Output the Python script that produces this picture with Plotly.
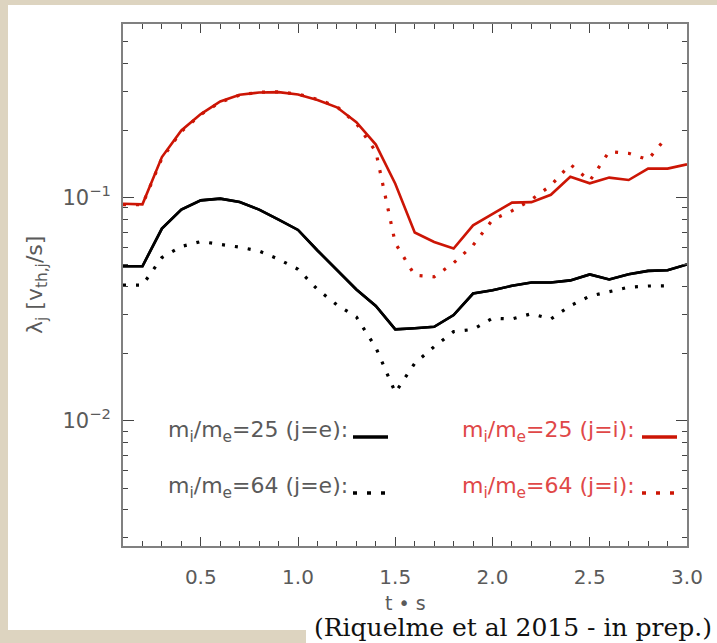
import plotly.graph_objects as go

# ---------------- data ----------------
t_full = [0.1, 0.2, 0.3, 0.4, 0.5, 0.6, 0.7, 0.8, 0.9, 1.0,
          1.1, 1.2, 1.3, 1.4, 1.5, 1.6, 1.7, 1.8, 1.9, 2.0,
          2.1, 2.2, 2.3, 2.4, 2.5, 2.6, 2.7, 2.8, 2.9, 3.0]
t_short = t_full[:-1]

ion_25 = [0.094, 0.0934, 0.152, 0.200, 0.237, 0.270, 0.289, 0.296, 0.297, 0.290,
          0.274, 0.254, 0.218, 0.173, 0.1155, 0.0698, 0.0633, 0.0592, 0.0752, 0.0842,
          0.095, 0.0955, 0.103, 0.124, 0.116, 0.123, 0.120, 0.135, 0.135, 0.141]

ion_64 = [0.093, 0.093, 0.150, 0.198, 0.236, 0.268, 0.288, 0.297, 0.298, 0.291,
          0.276, 0.256, 0.215, 0.161, 0.0626, 0.0449, 0.0442, 0.051, 0.0612, 0.0796,
          0.0873, 0.098, 0.1135, 0.141, 0.119, 0.161, 0.158, 0.148, 0.189]

ele_25 = [0.0493, 0.0493, 0.0727, 0.0884, 0.0973, 0.099, 0.0956, 0.0884, 0.0797, 0.0717,
          0.058, 0.0475, 0.0388, 0.0327, 0.0257, 0.026, 0.0264, 0.0298, 0.0372, 0.0385,
          0.0403, 0.0417, 0.0417, 0.0426, 0.0453, 0.043, 0.0454, 0.047, 0.0473, 0.0502]

ele_64 = [0.0406, 0.0406, 0.0539, 0.0604, 0.0636, 0.062, 0.060, 0.0577, 0.053, 0.0478,
          0.0388, 0.0331, 0.0292, 0.0213, 0.0134, 0.0181, 0.0215, 0.0251, 0.0257, 0.0288,
          0.0286, 0.0302, 0.0286, 0.0328, 0.0362, 0.0379, 0.0397, 0.0402, 0.0403]

x_tickvals = [0.5, 1.0, 1.5, 2.0, 2.5, 3.0]
x_ticktext = ["0.5", "1.0", "1.5", "2.0", "2.5", "3.0"]
y_tickvals = [0.01, 0.1]
y_ticktext = ["10<sup>−2</sup>", "10<sup>−1</sup>"]
y_minor = [0.003, 0.004, 0.005, 0.006, 0.007, 0.008, 0.009,
           0.02, 0.03, 0.04, 0.05, 0.06, 0.07, 0.08, 0.09,
           0.2, 0.3, 0.4, 0.5, 0.6]

legend_labels = ["m<sub>i</sub>/m<sub>e</sub>=25 (j=e):",
                 "m<sub>i</sub>/m<sub>e</sub>=64 (j=e):",
                 "m<sub>i</sub>/m<sub>e</sub>=25 (j=i):",
                 "m<sub>i</sub>/m<sub>e</sub>=64 (j=i):"]

RED = "#cc1505"
RED_TXT = "#e04848"
BLACK = "#000000"
GRAY_TXT = "#5a5a5a"
AXIS = "#808080"
TICK = "#444444"
BEIGE = "#ddd4c0"

W, H = 717, 643
ML, MR, MT, MB = 123, 30, 24, 97
PW, PH = W - ML - MR, H - MT - MB
X_RANGE = [0.1, 3.0]
Y_RANGE = [-2.5607, -0.2218]


def px2x(p):
    return (p - ML) / PW


def px2y(p):
    return (H - MB - p) / PH


fig = go.Figure()
DOT = "3px,10px"
fig.add_trace(go.Scatter(x=t_full, y=ele_25, mode="lines", line=dict(color=BLACK, width=2.6)))
fig.add_trace(go.Scatter(x=t_short, y=ele_64, mode="lines", line=dict(color=BLACK, width=3.2, dash=DOT)))
fig.add_trace(go.Scatter(x=t_full, y=ion_25, mode="lines", line=dict(color=RED, width=2.6)))
fig.add_trace(go.Scatter(x=t_short, y=ion_64, mode="lines", line=dict(color=RED, width=3.2, dash=DOT)))
# same series on the mirrored (top/right) axes so that those axes get drawn with their ticks
fig.add_trace(go.Scatter(x=t_full, y=ele_25, mode="lines", xaxis="x2", yaxis="y2",
                         line=dict(color=BLACK, width=2.6), hoverinfo="skip"))

shapes = [
    dict(type="rect", xref="paper", yref="paper", layer="below",
         x0=px2x(8), x1=px2x(717), y0=px2y(630), y1=px2y(5),
         fillcolor="white", line=dict(width=0)),
    dict(type="rect", xref="paper", yref="paper", layer="below",
         x0=px2x(306), x1=px2x(717), y0=px2y(643), y1=px2y(628),
         fillcolor="white", line=dict(width=0)),
]

row_y = [px2y(437), px2y(493)]
samples = [
    (px2x(353), px2x(388), row_y[0], BLACK, "solid"),
    (px2x(353), px2x(388), row_y[1], BLACK, "4px,10px"),
    (px2x(642), px2x(677), row_y[0], RED, "solid"),
    (px2x(642), px2x(677), row_y[1], RED, "4px,10px"),
]
for x0, x1, yy, c, d in samples:
    shapes.append(dict(type="line", xref="paper", yref="paper", x0=x0, x1=x1, y0=yy, y1=yy,
                       line=dict(color=c, width=3.5, dash=d)))

annotations = []
text_rows = [(px2x(350), px2y(431), legend_labels[0], GRAY_TXT),
             (px2x(350), px2y(487), legend_labels[1], GRAY_TXT),
             (px2x(637), px2y(431), legend_labels[2], RED_TXT),
             (px2x(637), px2y(487), legend_labels[3], RED_TXT)]
for xx, yy, txt, c in text_rows:
    annotations.append(dict(xref="paper", yref="paper", x=xx, y=yy, text=txt, showarrow=False,
                            xanchor="right", yanchor="middle",
                            font=dict(family="DejaVu Sans", size=22, color=c)))

annotations.append(dict(xref="paper", yref="paper", x=px2x(36), y=0.5, textangle=-90,
                        text="λ<sub>j</sub> [v<sub>th,j</sub>/s]", showarrow=False,
                        xanchor="center", yanchor="middle",
                        font=dict(family="DejaVu Sans", size=22, color=GRAY_TXT)))
annotations.append(dict(xref="paper", yref="paper", x=0.5, y=px2y(603),
                        text="t • s", showarrow=False, xanchor="center", yanchor="middle",
                        font=dict(family="DejaVu Sans", size=19, color=GRAY_TXT)))
annotations.append(dict(xref="paper", yref="paper", x=px2x(714), y=px2y(627),
                        text="(Riquelme et al 2015 - in prep.)", showarrow=False,
                        xanchor="right", yanchor="middle",
                        font=dict(family="DejaVu Serif", size=25, color="#111111")))

common_x = dict(range=X_RANGE, tickmode="array", tickvals=x_tickvals,
                ticks="inside", ticklen=9, tickwidth=1.2, tickcolor=TICK,
                minor=dict(dtick=0.1, tick0=0.0, ticks="inside", ticklen=5, tickwidth=1.1,
                           tickcolor=TICK, showgrid=False),
                showgrid=False, zeroline=False)
common_y = dict(type="log", range=Y_RANGE, tickmode="array", tickvals=y_tickvals,
                ticks="inside", ticklen=11, tickwidth=1.2, tickcolor=TICK,
                minor=dict(tickmode="array", tickvals=y_minor, ticks="inside", ticklen=5,
                           tickwidth=1.1, tickcolor=TICK, showgrid=False),
                showgrid=False, zeroline=False)

fig.update_layout(
    width=W, height=H,
    margin=dict(l=ML, r=MR, t=MT, b=MB, autoexpand=False),
    paper_bgcolor=BEIGE, plot_bgcolor="white",
    showlegend=False,
    shapes=shapes, annotations=annotations,
    xaxis=dict(**common_x, ticktext=x_ticktext,
               showline=True, linecolor=AXIS, linewidth=2, mirror=True,
               ticklabelstandoff=12,
               tickfont=dict(family="DejaVu Sans", size=20, color=GRAY_TXT)),
    yaxis=dict(**common_y, ticktext=y_ticktext,
               showline=True, linecolor=AXIS, linewidth=2, mirror=True,
               ticklabelstandoff=6,
               tickfont=dict(family="DejaVu Sans", size=21, color=GRAY_TXT)),
    xaxis2=dict(**common_x, overlaying="x", side="top", anchor="y2",
                showticklabels=False, showline=False),
    yaxis2=dict(**common_y, overlaying="y", side="right", anchor="x2",
                showticklabels=False, showline=False),
)

fig.write_html("out.html", config={"displayModeBar": False},
               post_script="document.body.style.margin='0px';document.body.style.overflow='hidden';")
